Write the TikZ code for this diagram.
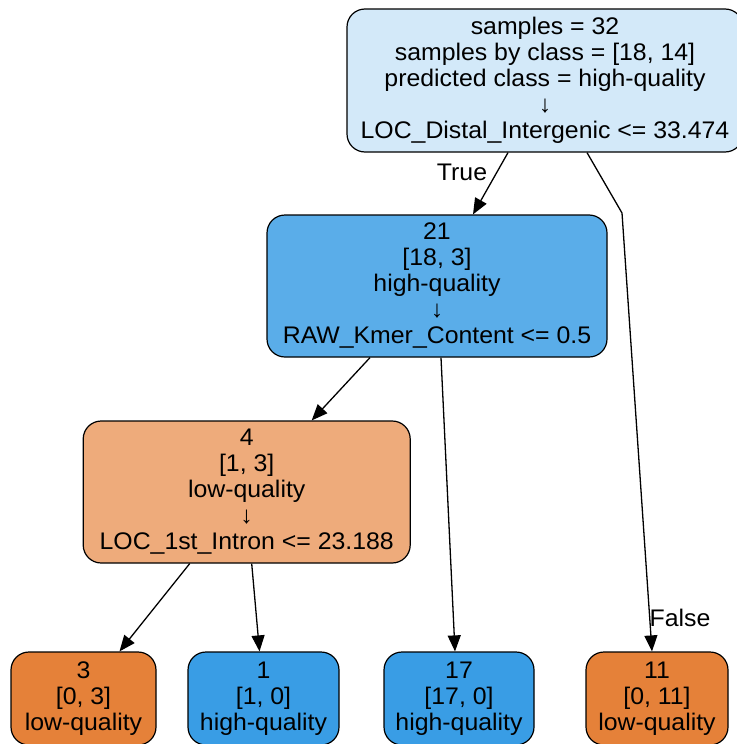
\documentclass[tikz,border=0pt]{standalone}
\usepackage{fontspec}
\setmainfont{Liberation Sans}[FakeStretch=1.035]
\usetikzlibrary{arrows.meta}

\definecolor{rootfill}{HTML}{D3E9F9}
\definecolor{midblue}{HTML}{5AADE9}
\definecolor{midorange}{HTML}{EEAB7B}
\definecolor{leafblue}{HTML}{399DE5}
\definecolor{leaforange}{HTML}{E58139}

\begin{document}
\begin{tikzpicture}[x=1pt, y=-1pt,
  treebox/.style={draw=black, line width=1.2pt, rounded corners=18pt,
    align=center, inner sep=0pt, font=\fontsize{24}{26}\selectfont},
  splitbox/.style={treebox, minimum height=142pt},
  leafbox/.style={treebox, minimum height=93pt},
  edge/.style={line width=1.3pt, -{Triangle[length=16pt,width=13pt]}},
  edgelabel/.style={inner sep=0pt, font=\fontsize{24}{26}\selectfont}]

  \useasboundingbox (0,0) rectangle (736,744);
  \fill[white] (0,0) rectangle (736,744);

  % split nodes
  \node[splitbox, fill=rootfill, minimum width=396pt, minimum height=143pt] (root) at (545,80.5)
    {samples = 32\\samples by class = [18, 14]\\predicted class = high-quality\\↓\\LOC\_Distal\_Intergenic <= 33.474};
  \node[splitbox, fill=midblue, minimum width=340pt] (n21) at (437,286)
    {21\\{[18, 3]}\\high-quality\\↓\\RAW\_Kmer\_Content <= 0.5};
  \node[splitbox, fill=midorange, minimum width=327pt] (n4) at (246.7,492)
    {4\\{[1, 3]}\\low-quality\\↓\\LOC\_1st\_Intron <= 23.188};

  % leaves
  \node[leafbox, fill=leaforange, minimum width=145pt] (n3) at (83.5,698.5)
    {3\\{[0, 3]}\\low-quality};
  \node[leafbox, fill=leafblue, minimum width=151pt] (n1) at (263.5,698.5)
    {1\\{[1, 0]}\\high-quality};
  \node[leafbox, fill=leafblue, minimum width=150pt] (n17) at (459,698.5)
    {17\\{[17, 0]}\\high-quality};
  \node[leafbox, fill=leaforange, minimum width=142pt] (n11) at (657,698.5)
    {11\\{[0, 11]}\\low-quality};

  % edges
  \coordinate (bend) at (622,213);
  \draw[edge] ([xshift=-37pt]root.south) -- ([xshift=36pt]n21.north);
  \draw[edge] ([xshift=42pt]root.south) -- (bend) -- ([xshift=-5pt]n11.north);
  \draw[edge] ([xshift=-67pt]n21.south) -- ([xshift=65pt]n4.north);
  \draw[edge] ([xshift=4pt]n21.south) -- ([xshift=-4pt]n17.north);
  \draw[edge] ([xshift=-57pt]n4.south) -- ([xshift=36pt]n3.north);
  \draw[edge] ([xshift=5pt]n4.south) -- ([xshift=-4pt]n1.north);

  % branch labels
  \node[edgelabel] (truelbl) at (462,172.5) {True};
  \node[edgelabel] (falselbl) at (680,618) {False};
\end{tikzpicture}
\end{document}
